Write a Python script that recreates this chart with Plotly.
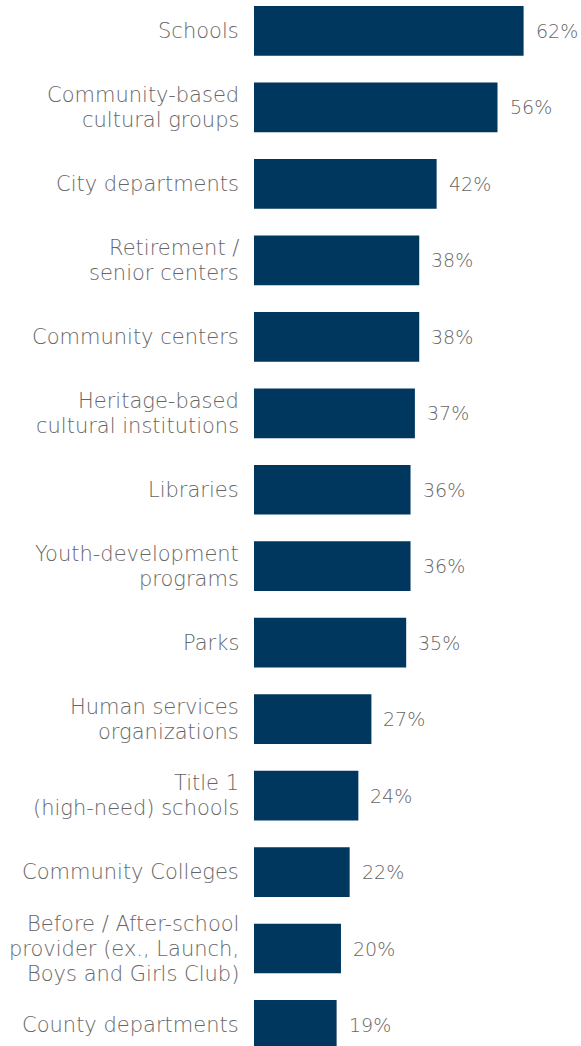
import plotly.graph_objects as go

categories = [
    "Schools",
    "Community-based<br>cultural groups",
    "City departments",
    "Retirement /<br>senior centers",
    "Community centers",
    "Heritage-based<br>cultural institutions",
    "Libraries",
    "Youth-development<br>programs",
    "Parks",
    "Human services<br>organizations",
    "Title 1<br>(high-need) schools",
    "Community Colleges",
    "Before / After-school<br>provider (ex., Launch,<br>Boys and Girls Club)",
    "County departments",
]
values = [62, 56, 42, 38, 38, 37, 36, 36, 35, 27, 24, 22, 20, 19]
value_labels = [f"{v}%" for v in values]

BAR = "#00375f"
GREY = "#666666"
FONT = "DejaVu Sans"
LABEL_SIZE = 21
LINE_STEP = 25

fig = go.Figure()
fig.add_trace(go.Bar(
    y=categories,
    x=values,
    orientation="h",
    marker=dict(color=BAR, line=dict(width=0)),
    hoverinfo="skip",
))

annotations = []
# value labels just past the end of each bar
for c, v, t in zip(categories, values, value_labels):
    annotations.append(dict(
        x=v, y=c, text=t, xref="x", yref="y", xanchor="left", yanchor="middle",
        xshift=10, showarrow=False,
        font=dict(family=FONT, size=19, color=GREY, weight=300)))
# category labels, one annotation per line for controlled line spacing
for c in categories:
    lines = c.split("<br>")
    n = len(lines)
    for i, ln in enumerate(lines):
        annotations.append(dict(
            x=0, y=c, text=ln, xref="paper", yref="y", xanchor="right",
            yanchor="middle", xshift=-14, yshift=((n - 1) / 2 - i) * LINE_STEP,
            showarrow=False, borderpad=0,
            font=dict(family=FONT, size=LABEL_SIZE, color=GREY, weight=300)))

fig.update_layout(
    width=581, height=1046,
    margin=dict(l=254, r=0, t=0, b=0),
    paper_bgcolor="white", plot_bgcolor="white",
    bargap=0.35,
    showlegend=False,
    annotations=annotations,
    xaxis=dict(range=[0, 75.2], visible=False, fixedrange=True),
    yaxis=dict(
        categoryorder="array", categoryarray=categories,
        range=[13.275, -0.405],
        showgrid=False, zeroline=False, showline=False,
        showticklabels=False, ticks="",
        fixedrange=True,
    ),
)

fig.write_html(
    "out.html",
    config={"displayModeBar": False, "staticPlot": True},
    post_script="document.body.style.margin='0';document.body.style.overflow='hidden';",
)
